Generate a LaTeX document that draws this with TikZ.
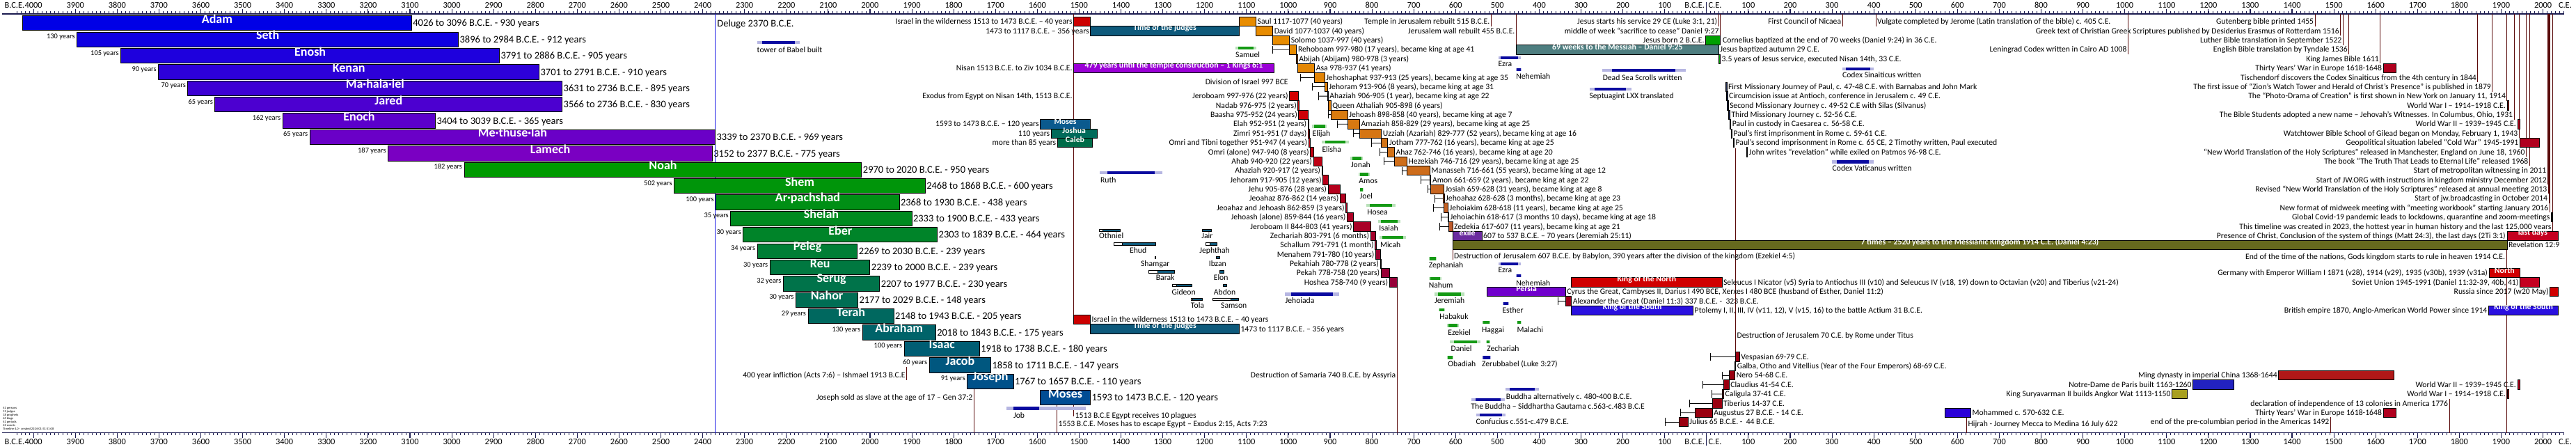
\documentclass[tikz,border=0pt]{standalone}
\usepackage{fontspec}
\setmainfont{Carlito}
\usetikzlibrary{arrows.meta,positioning,fit,calc}

\definecolor{axisblue}{HTML}{1B1B4F}
\definecolor{delugeblue}{HTML}{1A1AE6}
\definecolor{eventline}{HTML}{5A0A0A}
\definecolor{patA}{HTML}{0000E6}
\definecolor{patB}{HTML}{7A00C2}
\definecolor{patC}{HTML}{009A00}
\definecolor{patD}{HTML}{004C94}
\definecolor{judTop}{HTML}{E88C00}
\definecolor{judBot}{HTML}{BE5A2A}
\definecolor{isrTop}{HTML}{D40000}
\definecolor{isrBot}{HTML}{960038}
\definecolor{wildred}{HTML}{CC0000}
\definecolor{judgesteal}{HTML}{0E5A7C}
\definecolor{templepurple}{HTML}{9A00D6}
\definecolor{weeksteal}{HTML}{4E7E80}
\definecolor{jesusgreen}{HTML}{00A000}
\definecolor{exilepurple}{HTML}{6A2A9E}
\definecolor{timesolive}{HTML}{66691E}
\definecolor{lastred}{HTML}{C40020}
\definecolor{northred}{HTML}{D00000}
\definecolor{persiapurple}{HTML}{7000CC}
\definecolor{alexred}{HTML}{A00018}
\definecolor{southblue}{HTML}{2A10E0}
\definecolor{warred}{HTML}{B0001E}
\definecolor{mingred}{HTML}{B01818}
\definecolor{notreblue}{HTML}{2222C0}
\definecolor{angkorolive}{HTML}{A8A020}
\definecolor{mohblue}{HTML}{2A00D8}
\definecolor{romered}{HTML}{9A0010}
\definecolor{paulbox}{HTML}{1E2A50}
\definecolor{covidbox}{HTML}{3A0000}
\definecolor{mosesblue}{HTML}{0B5A8E}
\definecolor{joshuateal}{HTML}{006B5A}
\definecolor{calebteal}{HTML}{006B48}
\definecolor{navybar}{HTML}{0A0AA0}
\definecolor{prophetgreen}{HTML}{159A15}

% period bar with pale ends: colour, from, to, y
\newcommand{\fadebar}[4]{%
  \fill[#1!30] (#2,#4-2.2) rectangle (#3,#4+2.2);
  \fill[#1] ({#2+0.12*(#3-(#2))},#4-2.2) rectangle ({#3-0.12*(#3-(#2))},#4+2.2);}

\begin{document}
\begin{tikzpicture}[
    x=0.0150225cm, y=-0.025cm,
    every node/.style={inner sep=0pt, outer sep=0pt},
    axisline/.style={draw=axisblue, line width=0.8pt},
    axistick/.style={draw=axisblue, line width=0.5pt},
    axislbl/.style={font=\fontsize{8.8}{9}\selectfont, text height=5.6pt, text depth=0pt},
    lifebar/.style={draw=black, line width=0.7pt, text=white, font=\fontsize{12.8}{13}\selectfont\bfseries, text height=8.2pt, text depth=0pt},
    rangelbl/.style={font=\fontsize{10.3}{11}\selectfont, text height=6.6pt, text depth=0pt},
    agelbl/.style={font=\fontsize{7.4}{8}\selectfont, text height=4.7pt, text depth=0pt, anchor=east},
    evtlbl/.style={font=\fontsize{8.3}{9}\selectfont, text height=5.3pt, text depth=0pt},
    periodbox/.style={draw=black, line width=0.6pt, text=white, font=\fontsize{8.4}{9}\selectfont\bfseries, text height=5.4pt, text depth=0pt},
    kingbox/.style={draw=black, line width=0.6pt},
    evline/.style={draw=eventline, line width=0.7pt},
    delugeline/.style={draw=delugeblue, line width=0.7pt},
    birthline/.style={draw=black, line width=0.6pt, arrows={Bar[width=8pt]-}},
    judgebar/.style={draw=black, line width=0.3pt},
    tinylbl/.style={font=\fontsize{3.2}{3.6}\selectfont, align=left}
]

\useasboundingbox (-4080.2,0) rectangle (2078.9,642);
\fill[white] (-4080.2,0) rectangle (2078.9,642);

% -------------------------------------------------
% TIME AXES (top and bottom)
% -------------------------------------------------
\draw[axisline] (-4075,20) -- (2051,20);
\draw[axisline] (-4075,622) -- (2051,622);
\foreach \t in {-4040,-4030,...,2050} {
  \draw[axistick] (\t,20) -- (\t,16.3);
  \draw[axistick] (\t,622) -- (\t,625.7);
}
\foreach \t in {-4000,-3900,...,2000} {
  \draw[axisline] (\t,20) -- (\t,13);
  \draw[axisline] (\t,622) -- (\t,629);
}
\draw[axisline] (0,20) -- (0,3);
\draw[axisline] (0,622) -- (0,640);

\foreach \t [evaluate=\t as \lbl using int(-\t)] in {-3900,-3800,...,-100} {
  \node[axislbl] (top\lbl) at (\t,7.3) {\lbl};
  \node[axislbl] (bot\lbl) at (\t,635) {\lbl};
}
\foreach \t in {100,200,...,2000} {
  \node[axislbl] (topce\t) at (\t,7.3) {\t};
  \node[axislbl] (botce\t) at (\t,635) {\t};
}
\node[axislbl] (top4000) at (-4000,7.3) {4000};
\node[axislbl, left=0.3pt of top4000] (topBCEa) {B.C.E.};
\node[axislbl] (bot4000) at (-4000,635) {4000};
\node[axislbl, left=0.3pt of bot4000] (botBCEa) {B.C.E.};
\node[axislbl, anchor=east] (topBCE) at ([xshift=-2pt]0,7.3) {B.C.E.};
\node[axislbl, anchor=west] (topCE) at ([xshift=2pt]0,7.3) {C.E.};
\node[axislbl, anchor=east] (botBCE) at ([xshift=-2pt]0,635) {B.C.E.};
\node[axislbl, anchor=west] (botCE) at ([xshift=2pt]0,635) {C.E.};
\node[axislbl] (topEnd) at (2053,7.3) {C.E.};
\node[axislbl] (botEnd) at (2053,635) {C.E.};

% -------------------------------------------------
% EVENT LINES
% -------------------------------------------------
\draw[delugeline] (-2370,20) -- (-2370,622);
\draw[evline] (-1513,20) -- (-1513,466.1);
\draw[evline] (-515,20) -- (-515,37.9);
\draw[evline] (-455,20) -- (-455,64.6);
\draw[evline] (29,20) -- (29,37.9);
\draw[evline] (33,20) -- (33,51.3);
\draw[evline] (325,20) -- (325,37.9);
\draw[evline] (405,20) -- (405,37.9);
\draw[evline] (1008,20) -- (1008,78.0);
\draw[evline] (1455,20) -- (1455,37.9);
\draw[evline] (1516,20) -- (1516,51.3);
\draw[evline] (1522,20) -- (1522,64.6);
\draw[evline] (1536,20) -- (1536,78.0);
\draw[evline] (1611,20) -- (1611,91.4);
\draw[evline] (1844,20) -- (1844,118.2);
\draw[evline] (1879,20) -- (1879,131.6);
\draw[evline] (1914,20) -- (1914,144.9);
\draw[evline] (1931,20) -- (1931,171.7);
\draw[evline] (1943,20) -- (1943,198.5);
\draw[evline] (1960,20) -- (1960,225.2);
\draw[evline] (1968,20) -- (1968,238.6);
\draw[evline] (2011,20) -- (2011,252.0);
\draw[evline] (2012,20) -- (2012,265.4);
\draw[evline] (2013,20) -- (2013,278.7);
\draw[evline] (2014,20) -- (2014,292.1);
\draw[evline] (2016,20) -- (2016,305.5);
\draw[evline] (2023,20) -- (2023,332.3);
\draw[evline] (-1913,527.3) -- (-1913,546.7);
\draw[evline] (-1752,558.8) -- (-1752,622);
\draw[evline] (-1513,582.2) -- (-1513,598.5);
\draw[evline] (-1553,582.2) -- (-1553,622);
\draw[evline] (-740,412.5) -- (-740,622);
\draw[evline] (-607,359) -- (-607,373);
\draw[evline] (69.5,213) -- (69.5,506.2);
\draw[evline] (1914,359) -- (1914,622);
\draw[evline] (622,599.9) -- (622,622);
\draw[evline] (1776,573.1) -- (1776,622);
\draw[evline] (1492,599.8) -- (1492,622);

% =================================================
% PATRIARCHS
% =================================================
\node[rangelbl, anchor=west] (deluge) at ([xshift=2pt]-2370,33.7) {Deluge 2370 B.C.E.};

\node[lifebar, fill=patA, fit={(-4026,22.7)(-3096,44.0)}] (adam) {Adam};
\node[rangelbl, right=1.4pt of adam] (adamR) {4026 to 3096 B.C.E. - 930 years};

\node[lifebar, fill=patB!12!patA, fit={(-3896,46.1)(-2984,67.4)}] (seth) {Seth};
\node[rangelbl, right=1.4pt of seth] (sethR) {3896 to 2984 B.C.E. - 912 years};
\node[agelbl] (sethA) at ([xshift=-2.2pt,yshift=-4.5pt]seth.north west) {130 years};

\node[lifebar, fill=patB!25!patA, fit={(-3791,69.5)(-2886,90.8)}] (enosh) {Enosh};
\node[rangelbl, right=1.4pt of enosh] (enoshR) {3791 to 2886 B.C.E. - 905 years};
\node[agelbl] (enoshA) at ([xshift=-2.2pt,yshift=-4.5pt]enosh.north west) {105 years};

\node[lifebar, fill=patB!37!patA, fit={(-3701,92.9)(-2791,114.2)}] (kenan) {Kenan};
\node[rangelbl, right=1.4pt of kenan] (kenanR) {3701 to 2791 B.C.E. - 910 years};
\node[agelbl] (kenanA) at ([xshift=-2.2pt,yshift=-4.5pt]kenan.north west) {90 years};

\node[lifebar, fill=patB!50!patA, fit={(-3631,116.3)(-2736,137.6)}] (mahalalel) {Ma·hala·lel};
\node[rangelbl, right=1.4pt of mahalalel] (mahalalelR) {3631 to 2736 B.C.E. - 895 years};
\node[agelbl] (mahalalelA) at ([xshift=-2.2pt,yshift=-4.5pt]mahalalel.north west) {70 years};

\node[lifebar, fill=patB!62!patA, fit={(-3566,139.7)(-2736,161.0)}] (jared) {Jared};
\node[rangelbl, right=1.4pt of jared] (jaredR) {3566 to 2736 B.C.E. - 830 years};
\node[agelbl] (jaredA) at ([xshift=-2.2pt,yshift=-4.5pt]jared.north west) {65 years};

\node[lifebar, fill=patB!75!patA, fit={(-3404,163.1)(-3039,184.4)}] (enoch) {Enoch};
\node[rangelbl, right=1.4pt of enoch] (enochR) {3404 to 3039 B.C.E. - 365 years};
\node[agelbl] (enochA) at ([xshift=-2.2pt,yshift=-4.5pt]enoch.north west) {162 years};

\node[lifebar, fill=patB!87!patA, fit={(-3339,186.5)(-2370,207.8)}] (methuselah) {Me·thuse·lah};
\node[rangelbl, right=1.4pt of methuselah] (methuselahR) {3339 to 2370 B.C.E. - 969 years};
\node[agelbl] (methuselahA) at ([xshift=-2.2pt,yshift=-4.5pt]methuselah.north west) {65 years};

\node[lifebar, fill=patB, fit={(-3152,209.9)(-2377,231.2)}] (lamech) {Lamech};
\node[rangelbl, right=1.4pt of lamech] (lamechR) {3152 to 2377 B.C.E. - 775 years};
\node[agelbl] (lamechA) at ([xshift=-2.2pt,yshift=-4.5pt]lamech.north west) {187 years};

\node[lifebar, fill=patC, fit={(-2970,233.3)(-2020,254.6)}] (noah) {Noah};
\node[rangelbl, right=1.4pt of noah] (noahR) {2970 to 2020 B.C.E. - 950 years};
\node[agelbl] (noahA) at ([xshift=-2.2pt,yshift=-4.5pt]noah.north west) {182 years};

\node[lifebar, fill=patD!7!patC, fit={(-2468,256.7)(-1868,278.0)}] (shem) {Shem};
\node[rangelbl, right=1.4pt of shem] (shemR) {2468 to 1868 B.C.E. - 600 years};
\node[agelbl] (shemA) at ([xshift=-2.2pt,yshift=-4.5pt]shem.north west) {502 years};

\node[lifebar, fill=patD!14!patC, fit={(-2368,280.1)(-1930,301.4)}] (arpachshad) {Ar·pachshad};
\node[rangelbl, right=1.4pt of arpachshad] (arpachshadR) {2368 to 1930 B.C.E. - 438 years};
\node[agelbl] (arpachshadA) at ([xshift=-2.2pt,yshift=-4.5pt]arpachshad.north west) {100 years};

\node[lifebar, fill=patD!21!patC, fit={(-2333,303.5)(-1900,324.8)}] (shelah) {Shelah};
\node[rangelbl, right=1.4pt of shelah] (shelahR) {2333 to 1900 B.C.E. - 433 years};
\node[agelbl] (shelahA) at ([xshift=-2.2pt,yshift=-4.5pt]shelah.north west) {35 years};

\node[lifebar, fill=patD!28!patC, fit={(-2303,326.9)(-1839,348.2)}] (eber) {Eber};
\node[rangelbl, right=1.4pt of eber] (eberR) {2303 to 1839 B.C.E. - 464 years};
\node[agelbl] (eberA) at ([xshift=-2.2pt,yshift=-4.5pt]eber.north west) {30 years};

\node[lifebar, fill=patD!36!patC, fit={(-2269,350.3)(-2030,371.6)}] (peleg) {Peleg};
\node[rangelbl, right=1.4pt of peleg] (pelegR) {2269 to 2030 B.C.E. - 239 years};
\node[agelbl] (pelegA) at ([xshift=-2.2pt,yshift=-4.5pt]peleg.north west) {34 years};

\node[lifebar, fill=patD!43!patC, fit={(-2239,373.7)(-2000,395.0)}] (reu) {Reu};
\node[rangelbl, right=1.4pt of reu] (reuR) {2239 to 2000 B.C.E. - 239 years};
\node[agelbl] (reuA) at ([xshift=-2.2pt,yshift=-4.5pt]reu.north west) {30 years};

\node[lifebar, fill=patD!50!patC, fit={(-2207,397.1)(-1977,418.4)}] (serug) {Serug};
\node[rangelbl, right=1.4pt of serug] (serugR) {2207 to 1977 B.C.E. - 230 years};
\node[agelbl] (serugA) at ([xshift=-2.2pt,yshift=-4.5pt]serug.north west) {32 years};

\node[lifebar, fill=patD!57!patC, fit={(-2177,420.5)(-2029,441.8)}] (nahor) {Nahor};
\node[rangelbl, right=1.4pt of nahor] (nahorR) {2177 to 2029 B.C.E. - 148 years};
\node[agelbl] (nahorA) at ([xshift=-2.2pt,yshift=-4.5pt]nahor.north west) {30 years};

\node[lifebar, fill=patD!64!patC, fit={(-2148,443.9)(-1943,465.2)}] (terah) {Terah};
\node[rangelbl, right=1.4pt of terah] (terahR) {2148 to 1943 B.C.E. - 205 years};
\node[agelbl] (terahA) at ([xshift=-2.2pt,yshift=-4.5pt]terah.north west) {29 years};

\node[lifebar, fill=patD!71!patC, fit={(-2018,467.3)(-1843,488.6)}] (abraham) {Abraham};
\node[rangelbl, right=1.4pt of abraham] (abrahamR) {2018 to 1843 B.C.E. - 175 years};
\node[agelbl] (abrahamA) at ([xshift=-2.2pt,yshift=-4.5pt]abraham.north west) {130 years};

\node[lifebar, fill=patD!78!patC, fit={(-1918,490.7)(-1738,512.0)}] (isaac) {Isaac};
\node[rangelbl, right=1.4pt of isaac] (isaacR) {1918 to 1738 B.C.E. - 180 years};
\node[agelbl] (isaacA) at ([xshift=-2.2pt,yshift=-4.5pt]isaac.north west) {100 years};

\node[lifebar, fill=patD!86!patC, fit={(-1858,514.1)(-1711,535.4)}] (jacob) {Jacob};
\node[rangelbl, right=1.4pt of jacob] (jacobR) {1858 to 1711 B.C.E. - 147 years};
\node[agelbl] (jacobA) at ([xshift=-2.2pt,yshift=-4.5pt]jacob.north west) {60 years};

\node[lifebar, fill=patD!93!patC, fit={(-1767,537.5)(-1657,558.8)}] (joseph) {Joseph};
\node[rangelbl, right=1.4pt of joseph] (josephR) {1767 to 1657 B.C.E. - 110 years};
\node[agelbl] (josephA) at ([xshift=-2.2pt,yshift=-4.5pt]joseph.north west) {91 years};

\node[lifebar, fill=patD, fit={(-1593,560.9)(-1473,582.2)}] (moses) {Moses};
\node[rangelbl, right=1.4pt of moses] (mosesR) {1593 to 1473 B.C.E. - 120 years};

% events round the patriarchs
\fadebar{navybar}{-2270}{-2168}{61}
\node[evtlbl, anchor=west] (babel) at (-2270,71.7) {tower of Babel built};
\node[evtlbl, anchor=east] (ishmael) at ([xshift=-1.2pt]-1913,539) {400 year infliction (Acts 7:6) – Ishmael 1913 B.C.E};
\node[evtlbl, anchor=east] (josephSold) at ([xshift=-1.2pt]-1752,571) {Joseph sold as slave at the age of 17 – Gen 37:2};
\node[evtlbl, anchor=west] (plagues) at ([xshift=1.5pt]-1513,597) {1513 B.C.E Egypt receives 10 plagues};
\node[evtlbl, anchor=west] (escape) at ([xshift=1.5pt]-1553,609.5) {1553 B.C.E. Moses has to escape Egypt – Exodus 2:15, Acts 7:23};
\fill[navybar!30] (-1674,584.8) rectangle (-1484,589.2);
\fill[navybar] (-1657,584.8) rectangle (-1595,589.2);
\node[evtlbl, anchor=west] (job) at (-1657,597.7) {Job};

% =================================================
% EXODUS, JUDGES
% =================================================
\node[periodbox, fill=wildred, fit={(-1513,24.5)(-1473,37.9)}] (wild) {};
\node[evtlbl, left=1.4pt of wild] (wildL) {Israel in the wilderness 1513 to 1473 B.C.E. – 40 years};
\node[periodbox, fill=judgesteal, fit={(-1473,37.9)(-1117,51.3)}] (judges) {Time of the judges};
\node[evtlbl, left=1.4pt of judges] (judgesL) {1473 to 1117 B.C.E. – 356 years};
\node[periodbox, fill=templepurple, fit={(-1513,91.4)(-1034,104.8)}] (temple) {479 years until the temple construction – 1 Kings 6:1};
\node[evtlbl, left=1.4pt of temple] (templeL) {Nisan 1513 B.C.E. to Ziv 1034 B.C.E.};
\node[evtlbl, anchor=east] (exodus) at ([xshift=-1.4pt]-1513,138.2) {Exodus from Egypt on Nisan 14th, 1513 B.C.E.};

\node[periodbox, fill=mosesblue, fit={(-1593,171.7)(-1473,185.1)}] (mosesS) {Moses};
\node[evtlbl, left=1.4pt of mosesS] (mosesSL) {1593 to 1473 B.C.E. – 120 years};
\node[periodbox, fill=joshuateal, fit={(-1567,185.1)(-1457,198.5)}] (joshua) {Joshua};
\node[evtlbl, left=1.4pt of joshua] (joshuaL) {110 years};
\node[periodbox, fill=calebteal, fit={(-1552,198.4)(-1468,211.8)}] (caleb) {Caleb};
\node[evtlbl, left=1.4pt of caleb] (calebL) {more than 85 years};

\fadebar{prophetgreen}{-1126}{-1077}{69.3}
\node[evtlbl, anchor=west] (samuel) at (-1126,79.3) {Samuel};
\fadebar{navybar}{-1451}{-1301}{248.3}
\node[evtlbl, anchor=west] (ruth) at (-1449,258.7) {Ruth};

% the single judges
\draw[judgebar, fill=white] (-1452,329) rectangle (-1443,332.4);
\draw[judgebar, fill=judgesteal] (-1443,329) rectangle (-1403,332.4);
\draw[judgebar, fill=judgesteal] (-1206,329) rectangle (-1184,332.4);
\draw[judgebar, fill=white] (-1417,348.6) rectangle (-1398,352);
\draw[judgebar, fill=judgesteal] (-1398,348.6) rectangle (-1318,352);
\draw[judgebar, fill=white] (-1198,348.6) rectangle (-1188,352);
\draw[judgebar, fill=judgesteal] (-1188,348.6) rectangle (-1171,352);
\draw[judgebar, fill=judgesteal] (-1319,368.3) rectangle (-1317,371.7);
\draw[judgebar, fill=judgesteal] (-1173,368.3) rectangle (-1165,371.7);
\draw[judgebar, fill=white] (-1334,388.6) rectangle (-1313,392);
\draw[judgebar, fill=judgesteal] (-1313,388.6) rectangle (-1273,392);
\draw[judgebar, fill=judgesteal] (-1165,388.6) rectangle (-1155,392);
\draw[judgebar, fill=white] (-1278,408.6) rectangle (-1268,412);
\draw[judgebar, fill=judgesteal] (-1268,408.6) rectangle (-1230,412);
\draw[judgebar, fill=judgesteal] (-1156,408.6) rectangle (-1147,412);
\draw[judgebar, fill=white] (-1232,428.6) rectangle (-1229,432);
\draw[judgebar, fill=judgesteal] (-1229,428.6) rectangle (-1206,432);
\draw[judgebar, fill=white] (-1181,428.6) rectangle (-1138,432);
\draw[judgebar, fill=judgesteal] (-1138,428.6) rectangle (-1119,432);
\node[evtlbl] (othniel) at (-1423,339.3) {Othniel};
\node[evtlbl] (jair) at (-1194,339.3) {Jair};
\node[evtlbl] (ehud) at (-1359,359.7) {Ehud};
\node[evtlbl] (jephthah) at (-1176,359.7) {Jephthah};
\node[evtlbl] (shamgar) at (-1318,379.3) {Shamgar};
\node[evtlbl] (ibzan) at (-1169,379.3) {Ibzan};
\node[evtlbl] (barak) at (-1294,399.5) {Barak};
\node[evtlbl] (elon) at (-1161,399.5) {Elon};
\node[evtlbl] (gideon) at (-1250,419.7) {Gideon};
\node[evtlbl] (abdon) at (-1152,419.7) {Abdon};
\node[evtlbl] (tola) at (-1217,439.5) {Tola};
\node[evtlbl] (samson) at (-1130,439.5) {Samson};

\node[periodbox, fill=wildred, fit={(-1513,452.7)(-1473,466.1)}] (wild2) {};
\node[evtlbl, right=1.4pt of wild2] (wild2L) {Israel in the wilderness 1513 to 1473 B.C.E. – 40 years};
\node[periodbox, fill=judgesteal, fit={(-1473,466.0)(-1117,479.4)}] (judges2) {Time of the judges};
\node[evtlbl, right=1.4pt of judges2] (judges2L) {1473 to 1117 B.C.E. – 356 years};

% =================================================
% KINGS OF ISRAEL (UNITED) AND JUDAH
% =================================================
\node[kingbox, fill=judTop, fit={(-1117,24.5)(-1077,37.9)}] (saul) {};
\node[evtlbl, right=1.5pt of saul] (saulL) {Saul 1117-1077 (40 years)};
\node[kingbox, fill=judTop, fit={(-1077,37.9)(-1037,51.3)}] (david) {};
\node[evtlbl, right=1.5pt of david] (davidL) {David 1077-1037 (40 years)};
\node[kingbox, fill=judTop, fit={(-1037,51.3)(-997,64.6)}] (solomon) {};
\node[evtlbl, right=1.5pt of solomon] (solomonL) {Solomo 1037-997 (40 years)};
\node[evtlbl, anchor=east] (division) at ([xshift=-1.4pt]-997,118.3) {Division of Israel 997 BCE};

\node[kingbox, fill=judBot!0!judTop, fit={(-997,64.6)(-980,78.0)}] (jRehoboam) {};
\node[evtlbl, right=1.5pt of jRehoboam] (jRehoboamL) {Rehoboam 997-980 (17 years), became king at age 41};
\coordinate (bRehoboam) at (-1038,71.3);
\draw[birthline] (bRehoboam) -- (jRehoboam.west);

\node[kingbox, fill=judBot!5!judTop, fit={(-980,78.0)(-978,91.4)}] (jAbijah) {};
\node[evtlbl, right=1.5pt of jAbijah] (jAbijahL) {Abijah (Abijam) 980-978 (3 years)};

\node[kingbox, fill=judBot!10!judTop, fit={(-978,91.4)(-937,104.8)}] (jAsa) {};
\node[evtlbl, right=1.5pt of jAsa] (jAsaL) {Asa 978-937 (41 years)};

\node[kingbox, fill=judBot!15!judTop, fit={(-937,104.8)(-913,118.2)}] (jJehoshaphat) {};
\node[evtlbl, right=1.5pt of jJehoshaphat] (jJehoshaphatL) {Jehoshaphat 937-913 (25 years), became king at age 35};
\coordinate (bJehoshaphat) at (-972,111.5);
\draw[birthline] (bJehoshaphat) -- (jJehoshaphat.west);

\node[kingbox, fill=judBot!20!judTop, fit={(-913,118.2)(-906,131.6)}] (jJehoram) {};
\node[evtlbl, right=1.5pt of jJehoram] (jJehoramL) {Jehoram 913-906 (8 years), became king at age 31};
\coordinate (bJehoram) at (-944,124.9);
\draw[birthline] (bJehoram) -- (jJehoram.west);

\node[kingbox, fill=judBot!25!judTop, fit={(-906,131.5)(-905,144.9)}] (jAhaziah) {};
\node[evtlbl, right=1.5pt of jAhaziah] (jAhaziahL) {Ahaziah 906-905 (1 year), became king at age 22};
\coordinate (bAhaziah) at (-928,138.2);
\draw[birthline] (bAhaziah) -- (jAhaziah.west);

\node[kingbox, fill=judBot!30!judTop, fit={(-905,144.9)(-898,158.3)}] (jAthaliah) {};
\node[evtlbl, right=1.5pt of jAthaliah] (jAthaliahL) {Queen Athaliah 905-898 (6 years)};

\node[kingbox, fill=judBot!35!judTop, fit={(-898,158.3)(-858,171.7)}] (jJehoash) {};
\node[evtlbl, right=1.5pt of jJehoash] (jJehoashL) {Jehoash 898-858 (40 years), became king at age 7};
\coordinate (bJehoash) at (-905,165.0);
\draw[birthline] (bJehoash) -- (jJehoash.west);

\node[kingbox, fill=judBot!40!judTop, fit={(-858,171.7)(-829,185.1)}] (jAmaziah) {};
\node[evtlbl, right=1.5pt of jAmaziah] (jAmaziahL) {Amaziah 858-829 (29 years), became king at age 25};
\coordinate (bAmaziah) at (-883,178.4);
\draw[birthline] (bAmaziah) -- (jAmaziah.west);

\node[kingbox, fill=judBot!45!judTop, fit={(-829,185.1)(-777,198.5)}] (jUzziah) {};
\node[evtlbl, right=1.5pt of jUzziah] (jUzziahL) {Uzziah (Azariah) 829-777 (52 years), became king at age 16};
\coordinate (bUzziah) at (-845,191.8);
\draw[birthline] (bUzziah) -- (jUzziah.west);

\node[kingbox, fill=judBot!50!judTop, fit={(-777,198.4)(-762,211.8)}] (jJotham) {};
\node[evtlbl, right=1.5pt of jJotham] (jJothamL) {Jotham 777-762 (16 years), became king at age 25};
\coordinate (bJotham) at (-802,205.1);
\draw[birthline] (bJotham) -- (jJotham.west);

\node[kingbox, fill=judBot!55!judTop, fit={(-762,211.8)(-746,225.2)}] (jAhaz) {};
\node[evtlbl, right=1.5pt of jAhaz] (jAhazL) {Ahaz 762-746 (16 years), became king at age 20};
\coordinate (bAhaz) at (-782,218.5);
\draw[birthline] (bAhaz) -- (jAhaz.west);

\node[kingbox, fill=judBot!60!judTop, fit={(-746,225.2)(-716,238.6)}] (jHezekiah) {};
\node[evtlbl, right=1.5pt of jHezekiah] (jHezekiahL) {Hezekiah 746-716 (29 years), became king at age 25};
\coordinate (bHezekiah) at (-771,231.9);
\draw[birthline] (bHezekiah) -- (jHezekiah.west);

\node[kingbox, fill=judBot!65!judTop, fit={(-716,238.6)(-661,252.0)}] (jManasseh) {};
\node[evtlbl, right=1.5pt of jManasseh] (jManassehL) {Manasseh 716-661 (55 years), became king at age 12};
\coordinate (bManasseh) at (-728,245.3);
\draw[birthline] (bManasseh) -- (jManasseh.west);

\node[kingbox, fill=judBot!70!judTop, fit={(-661,252.0)(-659,265.4)}] (jAmon) {};
\node[evtlbl, right=1.5pt of jAmon] (jAmonL) {Amon 661-659 (2 years), became king at age 22};
\coordinate (bAmon) at (-683,258.7);
\draw[birthline] (bAmon) -- (jAmon.west);

\node[kingbox, fill=judBot!75!judTop, fit={(-659,265.3)(-628,278.7)}] (jJosiah) {};
\node[evtlbl, right=1.5pt of jJosiah] (jJosiahL) {Josiah 659-628 (31 years), became king at age 8};
\coordinate (bJosiah) at (-667,272.0);
\draw[birthline] (bJosiah) -- (jJosiah.west);

\node[kingbox, fill=judBot!80!judTop, fit={(-628,278.7)(-628,292.1)}] (jJehoahaz) {};
\node[evtlbl, right=1.5pt of jJehoahaz] (jJehoahazL) {Jehoahaz 628-628 (3 months), became king at age 23};
\coordinate (bJehoahaz) at (-651,285.4);
\draw[birthline] (bJehoahaz) -- (jJehoahaz.west);

\node[kingbox, fill=judBot!85!judTop, fit={(-628,292.1)(-618,305.5)}] (jJehoiakim) {};
\node[evtlbl, right=1.5pt of jJehoiakim] (jJehoiakimL) {Jehoiakim 628-618 (11 years), became king at age 25};
\coordinate (bJehoiakim) at (-653,298.8);
\draw[birthline] (bJehoiakim) -- (jJehoiakim.west);

\node[kingbox, fill=judBot!90!judTop, fit={(-618,305.5)(-617,318.9)}] (jJehoiachin) {};
\node[evtlbl, right=1.5pt of jJehoiachin] (jJehoiachinL) {Jehoiachin 618-617 (3 months 10 days), became king at age 18};
\coordinate (bJehoiachin) at (-636,312.2);
\draw[birthline] (bJehoiachin) -- (jJehoiachin.west);

\node[kingbox, fill=judBot, fit={(-617,318.9)(-607,332.3)}] (jZedekia) {};
\node[evtlbl, right=1.5pt of jZedekia] (jZedekiaL) {Zedekia 617-607 (11 years), became king at age 21};
\coordinate (bZedekia) at (-638,325.6);
\draw[birthline] (bZedekia) -- (jZedekia.west);

% =================================================
% KINGS OF ISRAEL (NORTH)
% =================================================
\node[kingbox, fill=isrBot!0!isrTop, fit={(-997,131.5)(-976,144.9)}] (iJeroboam) {};
\node[evtlbl, left=1.5pt of iJeroboam] (iJeroboamL) {Jeroboam 997-976 (22 years)};
\node[kingbox, fill=isrBot!5!isrTop, fit={(-976,144.9)(-975,158.3)}] (iNadab) {};
\node[evtlbl, left=1.5pt of iNadab] (iNadabL) {Nadab 976-975 (2 years)};
\node[kingbox, fill=isrBot!10!isrTop, fit={(-975,158.3)(-952,171.7)}] (iBaasha) {};
\node[evtlbl, left=1.5pt of iBaasha] (iBaashaL) {Baasha 975-952 (24 years)};
\node[kingbox, fill=isrBot!15!isrTop, fit={(-952,171.7)(-951,185.1)}] (iElah) {};
\node[evtlbl, left=1.5pt of iElah] (iElahL) {Elah 952-951 (2 years)};
\node[kingbox, fill=isrBot!20!isrTop, fit={(-951,185.1)(-951,198.5)}] (iZimri) {};
\node[evtlbl, left=1.5pt of iZimri] (iZimriL) {Zimri 951-951 (7 days)};
\node[kingbox, fill=isrBot!25!isrTop, fit={(-951,198.4)(-947,211.8)}] (iOmriTibni) {};
\node[evtlbl, left=1.5pt of iOmriTibni] (iOmriTibniL) {Omri and Tibni together 951-947 (4 years)};
\node[kingbox, fill=isrBot!30!isrTop, fit={(-947,211.8)(-940,225.2)}] (iOmri) {};
\node[evtlbl, left=1.5pt of iOmri] (iOmriL) {Omri (alone) 947-940 (8 years)};
\node[kingbox, fill=isrBot!35!isrTop, fit={(-940,225.2)(-920,238.6)}] (iAhab) {};
\node[evtlbl, left=1.5pt of iAhab] (iAhabL) {Ahab 940-920 (22 years)};
\node[kingbox, fill=isrBot!40!isrTop, fit={(-920,238.6)(-917,252.0)}] (iAhaziah) {};
\node[evtlbl, left=1.5pt of iAhaziah] (iAhaziahL) {Ahaziah 920-917 (2 years)};
\node[kingbox, fill=isrBot!45!isrTop, fit={(-917,252.0)(-905,265.4)}] (iJehoram) {};
\node[evtlbl, left=1.5pt of iJehoram] (iJehoramL) {Jehoram 917-905 (12 years)};
\node[kingbox, fill=isrBot!50!isrTop, fit={(-905,265.3)(-876,278.7)}] (iJehu) {};
\node[evtlbl, left=1.5pt of iJehu] (iJehuL) {Jehu 905-876 (28 years)};
\node[kingbox, fill=isrBot!55!isrTop, fit={(-876,278.7)(-862,292.1)}] (iJeoahaz) {};
\node[evtlbl, left=1.5pt of iJeoahaz] (iJeoahazL) {Jeoahaz 876-862 (14 years)};
\node[kingbox, fill=isrBot!60!isrTop, fit={(-862,292.1)(-859,305.5)}] (iJeoJeho) {};
\node[evtlbl, left=1.5pt of iJeoJeho] (iJeoJehoL) {Jeoahaz and Jehoash 862-859 (3 years)};
\node[kingbox, fill=isrBot!65!isrTop, fit={(-859,305.5)(-844,318.9)}] (iJehoash) {};
\node[evtlbl, left=1.5pt of iJehoash] (iJehoashL) {Jehoash (alone) 859-844 (16 years)};
\node[kingbox, fill=isrBot!70!isrTop, fit={(-844,318.9)(-803,332.3)}] (iJeroboamII) {};
\node[evtlbl, left=1.5pt of iJeroboamII] (iJeroboamIIL) {Jeroboam II 844-803 (41 years)};
\node[kingbox, fill=isrBot!75!isrTop, fit={(-803,332.2)(-791,345.6)}] (iZechariah) {};
\node[evtlbl, left=1.5pt of iZechariah] (iZechariahL) {Zechariah 803-791 (6 months)};
\node[kingbox, fill=isrBot!80!isrTop, fit={(-791,345.6)(-791,359.0)}] (iSchallum) {};
\node[evtlbl, left=1.5pt of iSchallum] (iSchallumL) {Schallum 791-791 (1 month)};
\node[kingbox, fill=isrBot!85!isrTop, fit={(-791,359.0)(-780,372.4)}] (iMenahem) {};
\node[evtlbl, left=1.5pt of iMenahem] (iMenahemL) {Menahem 791-780 (10 years)};
\node[kingbox, fill=isrBot!90!isrTop, fit={(-780,372.4)(-778,385.8)}] (iPekahiah) {};
\node[evtlbl, left=1.5pt of iPekahiah] (iPekahiahL) {Pekahiah 780-778 (2 years)};
\node[kingbox, fill=isrBot!95!isrTop, fit={(-778,385.8)(-758,399.2)}] (iPekah) {};
\node[evtlbl, left=1.5pt of iPekah] (iPekahL) {Pekah 778-758 (20 years)};
\node[kingbox, fill=isrBot, fit={(-758,399.1)(-740,412.5)}] (iHoshea) {};
\node[evtlbl, left=1.5pt of iHoshea] (iHosheaL) {Hoshea 758-740 (9 years)};
\node[evtlbl, anchor=east] (samaria) at ([xshift=-1.4pt]-740,539.6) {Destruction of Samaria 740 B.C.E. by Assyria};

% =================================================
% PROPHETS AND PERSONS
% =================================================
\fadebar{navybar}{-1008}{-878}{422.7}
\node[evtlbl, anchor=west] (jehoiada) at (-1007,432.3) {Jehoiada};
\fadebar{prophetgreen}{-943}{-908}{181.7}
\node[evtlbl, anchor=west] (elijah) at (-942,191.7) {Elijah};
\fadebar{prophetgreen}{-920}{-855}{204.3}
\node[evtlbl, anchor=west] (elisha) at (-919,214.7) {Elisha};
\fadebar{prophetgreen}{-851}{-821}{227.7}
\node[evtlbl, anchor=west] (jonah) at (-850,237.3) {Jonah};
\fadebar{prophetgreen}{-831}{-805}{250.7}
\node[evtlbl, anchor=west] (amos) at (-831,260.3) {Amos};
\fadebar{prophetgreen}{-829}{-820}{272.7}
\node[evtlbl, anchor=west] (joel) at (-829,282.3) {Joel};
\fadebar{prophetgreen}{-813}{-743}{295.3}
\node[evtlbl, anchor=west] (hosea) at (-811,305) {Hosea};
\fadebar{prophetgreen}{-785}{-732}{318.3}
\node[evtlbl, anchor=west] (isaiah) at (-783,328) {Isaiah};
\fadebar{prophetgreen}{-782}{-718}{341.3}
\node[evtlbl, anchor=west] (micah) at (-780,351.7) {Micah};
\fadebar{prophetgreen}{-664}{-645}{371.7}
\node[evtlbl, anchor=west] (zephaniah) at (-664,381.3) {Zephaniah};
\fadebar{prophetgreen}{-664}{-633}{400}
\node[evtlbl, anchor=west] (nahum) at (-664,410) {Nahum};
\fadebar{prophetgreen}{-651}{-579}{422.7}
\node[evtlbl, anchor=west] (jeremiah) at (-650,432.3) {Jeremiah};
\fadebar{prophetgreen}{-640}{-625}{445.3}
\node[evtlbl, anchor=west] (habakuk) at (-638,455.3) {Habakuk};
\fadebar{prophetgreen}{-620}{-592}{468}
\node[evtlbl, anchor=west] (ezekiel) at (-618,478.3) {Ezekiel};
\fadebar{prophetgreen}{-613}{-541}{491.3}
\node[evtlbl, anchor=west] (daniel) at (-611,501.3) {Daniel};
\fadebar{prophetgreen}{-620}{-606}{513.7}
\node[evtlbl, anchor=west] (obadiah) at (-618,523.3) {Obadiah};
\fadebar{prophetgreen}{-537}{-517}{463.3}
\node[evtlbl, anchor=west] (haggai) at (-537,473.7) {Haggai};
\fadebar{prophetgreen}{-527}{-517}{491.3}
\node[evtlbl, anchor=west] (zechariah) at (-525,501.3) {Zechariah};
\fadebar{prophetgreen}{-453}{-443}{463.3}
\node[evtlbl, anchor=west] (malachi) at (-453,473.7) {Malachi};
\fadebar{navybar}{-537}{-515}{514}
\node[evtlbl, anchor=west] (zerubbabel) at (-537,523.3) {Zerubbabel (Luke 3:27)};
\fadebar{navybar}{-498}{-444}{83}
\node[evtlbl, anchor=west] (ezra) at (-498,92.3) {Ezra};
\fadebar{navybar}{-455}{-443}{100}
\node[evtlbl, anchor=west] (nehemiah) at (-455,110.3) {Nehemiah};
\fadebar{navybar}{-498}{-444}{379}
\node[evtlbl, anchor=west] (ezra2) at (-498,388.3) {Ezra};
\fadebar{navybar}{-455}{-443}{396}
\node[evtlbl, anchor=west] (nehemiah2) at (-455,406.7) {Nehemiah};
\fadebar{navybar}{-488}{-472}{436.3}
\node[evtlbl, anchor=west] (esther) at (-488,446.3) {Esther};
\fadebar{navybar}{-250}{-50}{101}
\node[evtlbl, anchor=west] (deadsea) at (-248,111.7) {Dead Sea Scrolls written};
\fadebar{navybar}{-280}{-180}{128.3}
\node[evtlbl, anchor=west] (septuagint) at (-280,138.3) {Septuagint LXX translated};
\fadebar{navybar}{-481}{-401}{559.3}
\node[evtlbl, anchor=west] (buddhaAlt) at (-479,569.7) {Buddha alternatively c. 480-400 B.C.E.};
\fadebar{navybar}{-562}{-483}{574.3}
\node[evtlbl, anchor=west] (buddha) at (-563,584.3) {The Buddha – Siddhartha Gautama c.563-c.483 B.C.E};
\fadebar{navybar}{-551}{-480}{596.7}
\node[evtlbl, anchor=west] (confucius) at (-551,606.3) {Confucius c.551-c.479 B.C.E.};

% =================================================
% EXILE, 7 TIMES, WORLD POWERS
% =================================================
\node[periodbox, fill=exilepurple, fit={(-607,332.2)(-537,345.6)}] (exile) {exile};
\node[evtlbl, right=1.5pt of exile] (exileL) {607 to 537 B.C.E. – 70 years (Jeremiah 25:11)};
\node[periodbox, fill=timesolive, fit={(-607,345.6)(1914,359.0)}] (seventimes) {7 times – 2520 years to the Messianic Kingdom 1914 C.E. (Daniel 4:23)};
\node[evtlbl, anchor=west] (jerusalem607) at ([xshift=1.5pt]-607,368) {Destruction of Jerusalem 607 B.C.E. by Babylon, 390 years after the division of the kingdom (Ezekiel 4:5)};

\node[periodbox, fill=northred, fit={(-323,399.1)(37,412.5)}] (kingNorth) {King of the North};
\node[evtlbl, right=1.5pt of kingNorth] (kingNorthL) {Seleucus I Nicator (v5) Syria to Antiochus III (v10) and Seleucus IV (v18, 19) down to Octavian (v20) and Tiberius (v21-24)};
\node[periodbox, fill=persiapurple, fit={(-524,412.5)(-337,425.9)}] (persia) {Persia};
\node[evtlbl, right=1.5pt of persia] (persiaL) {Cyrus the Great, Cambyses II, Darius I 490 BCE, Xerxes I 480 BCE (husband of Esther, Daniel 11:2)};
\node[kingbox, fill=alexred, fit={(-336,425.9)(-323,439.3)}] (alexander) {};
\node[evtlbl, right=1.5pt of alexander] (alexanderL) {Alexander the Great (Daniel 11:3) 337 B.C.E. -\ \ 323 B.C.E.};
\coordinate (bAlexander) at (-356,432.6);
\draw[birthline] (bAlexander) -- (alexander.west);
\node[periodbox, fill=southblue, fit={(-323,439.3)(-32,452.7)}] (kingSouth) {King of the South};
\node[evtlbl, right=1.5pt of kingSouth] (kingSouthL) {Ptolemy I, II, III, IV (v11, 12), V (v15, 16) to the battle Actium 31 B.C.E.};

% =================================================
% JESUS AND THE FIRST CENTURY
% =================================================
\node[evtlbl, anchor=east] (templeRebuilt) at ([xshift=-1.4pt]-515,31.2) {Temple in Jerusalem rebuilt 515 B.C.E.};
\node[evtlbl, anchor=east] (wallRebuilt) at ([xshift=-1.4pt]-455,44.6) {Jerusalem wall rebuilt 455 B.C.E.};
\node[evtlbl, anchor=east] (jesusService) at ([xshift=-1.4pt]29,31.2) {Jesus starts his service 29 CE (Luke 3:1, 21)};
\node[evtlbl, anchor=east] (midWeek) at ([xshift=-1.4pt]33,44.6) {middle of week “sacrifice to cease” Daniel 9:27};
\node[periodbox, fill=jesusgreen, fit={(-2,51.3)(33,64.6)}] (jesusLife) {};
\node[evtlbl, left=1.5pt of jesusLife] (jesusBorn) {Jesus born 2 B.C.E.};
\node[evtlbl, right=2.5pt of jesusLife] (cornelius) {Cornelius baptized at the end of 70 weeks (Daniel 9:24) in 36 C.E.};
\node[periodbox, fill=weeksteal, fit={(-455,64.6)(29,78.0)}] (weeks) {69 weeks to the Messiah – Daniel 9:25};
\node[evtlbl, right=1.5pt of weeks] (weeksL) {Jesus baptized autumn 29 C.E.};
\node[periodbox, fill=jesusgreen, fit={(29,78.0)(33,91.4)}] (service) {};
\node[evtlbl, right=1.5pt of service] (serviceL) {3.5 years of Jesus service, executed Nisan 14th, 33 C.E.};

\node[kingbox, fill=paulbox, fit={(47,118.2)(48,131.6)}] (paul1) {};
\node[evtlbl, right=1.5pt of paul1] (paul1L) {First Missionary Journey of Paul, c. 47-48 C.E. with Barnabas and John Mark};
\node[kingbox, fill=paulbox, fit={(49,131.5)(49,144.9)}] (paul2) {};
\node[evtlbl, right=1.5pt of paul2] (paul2L) {Circumcision issue at Antioch, conference in Jerusalem c. 49 C.E.};
\node[kingbox, fill=paulbox, fit={(49,144.9)(52,158.3)}] (paul3) {};
\node[evtlbl, right=1.5pt of paul3] (paul3L) {Second Missionary Journey c. 49-52 C.E with Silas (Silvanus)};
\node[kingbox, fill=paulbox, fit={(52,158.3)(56,171.7)}] (paul4) {};
\node[evtlbl, right=1.5pt of paul4] (paul4L) {Third Missionary Journey c. 52-56 C.E.};
\node[kingbox, fill=paulbox, fit={(56,171.7)(58,185.1)}] (paul5) {};
\node[evtlbl, right=1.5pt of paul5] (paul5L) {Paul in custody in Caesarea c. 56-58 C.E.};
\node[kingbox, fill=paulbox, fit={(59,185.1)(61,198.5)}] (paul6) {};
\node[evtlbl, right=1.5pt of paul6] (paul6L) {Paul’s first imprisonment in Rome c. 59-61 C.E.};
\node[kingbox, fill=paulbox, fit={(65,198.4)(65,211.8)}] (paul7) {};
\node[evtlbl, right=1.5pt of paul7] (paul7L) {Paul’s second imprisonment in Rome c. 65 CE, 2 Timothy written, Paul executed};
\node[kingbox, fill=paulbox, fit={(96,211.8)(98,225.2)}] (john) {};
\node[evtlbl, right=1.5pt of john] (johnL) {John writes “revelation” while exiled on Patmos 96-98 C.E.};
\node[evtlbl, anchor=west] (titus) at ([xshift=1.5pt]69.5,482.3) {Destruction of Jerusalem 70 C.E. by Rome under Titus};

% roman emperors
\node[kingbox, fill=romered, fit={(69,506.2)(79,519.6)}] (vespasian) {};
\node[evtlbl, right=1.5pt of vespasian] (vespasianL) {Vespasian 69-79 C.E.};
\coordinate (bVespasian) at (9,512.9);
\draw[birthline] (bVespasian) -- (vespasian.west);
\node[kingbox, fill=romered, fit={(68,519.6)(69,533.0)}] (galba) {};
\node[evtlbl, right=1.5pt of galba] (galbaL) {Galba, Otho and Vitellius (Year of the Four Emperors) 68-69 C.E.};
\node[kingbox, fill=romered, fit={(54,532.9)(68,546.3)}] (nero) {};
\node[evtlbl, right=1.5pt of nero] (neroL) {Nero 54-68 C.E.};
\coordinate (bNero) at (37,539.6);
\draw[birthline] (bNero) -- (nero.west);
\node[kingbox, fill=romered, fit={(41,546.3)(54,559.7)}] (claudius) {};
\node[evtlbl, right=1.5pt of claudius] (claudiusL) {Claudius 41-54 C.E.};
\coordinate (bClaudius) at (-10,553.0);
\draw[birthline] (bClaudius) -- (claudius.west);
\node[kingbox, fill=romered, fit={(37,559.7)(41,573.1)}] (caligula) {};
\node[evtlbl, right=1.5pt of caligula] (caligulaL) {Caligula 37-41 C.E.};
\coordinate (bCaligula) at (12,566.4);
\draw[birthline] (bCaligula) -- (caligula.west);
\node[kingbox, fill=romered, fit={(14,573.1)(37,586.5)}] (tiberius) {};
\node[evtlbl, right=1.5pt of tiberius] (tiberiusL) {Tiberius 14-37 C.E.};
\coordinate (bTiberius) at (-42,579.8);
\draw[birthline] (bTiberius) -- (tiberius.west);
\node[kingbox, fill=romered, fit={(-27,586.5)(14,599.9)}] (augustus) {};
\node[evtlbl, right=1.5pt of augustus] (augustusL) {Augustus 27 B.C.E. - 14 C.E.};
\coordinate (bAugustus) at (-63,593.2);
\draw[birthline] (bAugustus) -- (augustus.west);
\node[kingbox, fill=romered, fit={(-65,599.8)(-44,613.2)}] (julius) {};
\node[evtlbl, right=1.5pt of julius] (juliusL) {Julius 65 B.C.E. -\ \ 44 B.C.E.};
\coordinate (bJulius) at (-100,606.5);
\draw[birthline] (bJulius) -- (julius.west);

% =================================================
% CHURCH HISTORY AND MODERN TIMES
% =================================================
\node[evtlbl, anchor=east] (nicaea) at ([xshift=-1.4pt]325,31.2) {First Council of Nicaea};
\node[evtlbl, anchor=west] (vulgate) at ([xshift=1.4pt]405,31.2) {Vulgate completed by Jerome (Latin translation of the bible) c. 405 C.E.};
\fadebar{navybar}{325}{400}{99}
\node[evtlbl, anchor=west] (sinaiticus) at (325,108.3) {Codex Sinaiticus written};
\fadebar{navybar}{300}{400}{232.7}
\node[evtlbl, anchor=west] (vaticanus) at (301,242.3) {Codex Vaticanus written};
\node[evtlbl, anchor=east] (leningrad) at ([xshift=-1.4pt]1008,71.3) {Leningrad Codex written in Cairo AD 1008};

\node[periodbox, fill=mohblue, fit={(570,586.5)(632,599.9)}] (mohammed) {};
\node[evtlbl, right=1.5pt of mohammed] (mohammedL) {Mohammed c. 570-632 C.E.};
\node[evtlbl, anchor=west] (hijrah) at ([xshift=1.5pt]622,609.7) {Hijrah - Journey Mecca to Medina 16 July 622};

\node[evtlbl, anchor=east] (gutenberg) at ([xshift=-1.4pt]1455,31.2) {Gutenberg bible printed 1455};
\node[evtlbl, anchor=east] (erasmus) at ([xshift=-1.4pt]1516,44.6) {Greek text of Christian Greek Scriptures published by Desiderius Erasmus of Rotterdam 1516};
\node[evtlbl, anchor=east] (luther) at ([xshift=-1.4pt]1522,58.0) {Luther Bible translation in September 1522};
\node[evtlbl, anchor=east] (tyndale) at ([xshift=-1.4pt]1536,71.3) {English Bible translation by Tyndale 1536};
\node[evtlbl, anchor=east] (kingjames) at ([xshift=-1.4pt]1611,84.7) {King James Bible 1611};
\node[kingbox, fill=warred, fit={(1618,91.4)(1648,104.8)}] (thirty) {};
\node[evtlbl, left=1.5pt of thirty] (thirtyL) {Thirty Years’ War in Europe 1618-1648};
\node[evtlbl, anchor=east] (tischendorf) at ([xshift=-1.4pt]1844,111.5) {Tischendorf discovers the Codex Sinaiticus from the 4th century in 1844};
\node[evtlbl, anchor=east] (zion) at ([xshift=-1.4pt]1879,124.9) {The first issue of “Zion’s Watch Tower and Herald of Christ’s Presence” is published in 1879};
\node[evtlbl, anchor=east] (photodrama) at ([xshift=-1.4pt]1914,138.2) {The “Photo-Drama of Creation” is first shown in New York on January 11, 1914};
\node[kingbox, fill=warred, fit={(1914,144.9)(1918,158.3)}] (wwI) {};
\node[evtlbl, left=1.5pt of wwI] (wwIL) {World War I – 1914–1918 C.E.};
\node[evtlbl, anchor=east] (witnesses) at ([xshift=-1.4pt]1931,165.0) {The Bible Students adopted a new name – Jehovah’s Witnesses. In Columbus, Ohio, 1931};
\node[kingbox, fill=warred, fit={(1939,171.7)(1945,185.1)}] (wwII) {};
\node[evtlbl, left=1.5pt of wwII] (wwIIL) {World War II – 1939–1945 C.E.};
\node[evtlbl, anchor=east] (gilead) at ([xshift=-1.4pt]1943,191.8) {Watchtower Bible School of Gilead began on Monday, February 1, 1943};
\node[kingbox, fill=warred, fit={(1945,198.4)(1991,211.8)}] (coldwar) {};
\node[evtlbl, left=1.5pt of coldwar] (coldwarL) {Geopolitical situation labeled “Cold War” 1945-1991};
\node[evtlbl, anchor=east] (nwt) at ([xshift=-1.4pt]1960,218.5) {“New World Translation of the Holy Scriptures” released in Manchester, England on June 18, 1960};
\node[evtlbl, anchor=east] (truthbook) at ([xshift=-1.4pt]1968,231.9) {The book “The Truth That Leads to Eternal Life” released 1968};
\node[evtlbl, anchor=east] (metro) at ([xshift=-1.4pt]2011,245.3) {Start of metropolitan witnessing in 2011};
\node[evtlbl, anchor=east] (jworg) at ([xshift=-1.4pt]2012,258.7) {Start of JW.ORG with instructions in kingdom ministry December 2012};
\node[evtlbl, anchor=east] (nwtRev) at ([xshift=-1.4pt]2013,272.0) {Revised “New World Translation of the Holy Scriptures” released at annual meeting 2013};
\node[evtlbl, anchor=east] (broadcast) at ([xshift=-1.4pt]2014,285.4) {Start of jw.broadcasting in October 2014};
\node[evtlbl, anchor=east] (workbook) at ([xshift=-1.4pt]2016,298.8) {New format of midweek meeting with “meeting workbook” starting January 2016};
\node[kingbox, fill=covidbox, fit={(2020,305.5)(2023,318.9)}] (covid) {};
\node[evtlbl, left=1.5pt of covid] (covidL) {Global Covid-19 pandemic leads to lockdowns, quarantine and zoom-meetings};
\node[evtlbl, anchor=east] (created) at ([xshift=-1.4pt]2023,325.6) {This timeline was created in 2023, the hottest year in human history and the last 125,000 years};

\node[periodbox, fill=lastred, fit={(1914,332.2)(2037,345.6)}] (lastdays) {last days};
\node[evtlbl, left=1.5pt of lastdays] (lastdaysL) {Presence of Christ, Conclusion of the system of things (Matt 24:3), the last days (2Ti 3:1)};
\node[evtlbl, anchor=west] (rev129) at ([xshift=1.5pt]1914,352.3) {Revelation 12:9};
\node[evtlbl, anchor=east] (nations) at ([xshift=-2pt]1914,369) {End of the time of the nations, Gods kingdom starts to rule in heaven 1914 C.E.};

\node[periodbox, fill=northred, fit={(1871,385.8)(1945,399.2)}] (north) {North};
\node[evtlbl, left=1.5pt of north] (northL) {Germany with Emperor William I 1871 (v28), 1914 (v29), 1935 (v30b), 1939 (v31a)};
\node[kingbox, fill=lastred, fit={(1945,399.1)(1991,412.5)}] (soviet) {};
\node[evtlbl, left=1.5pt of soviet] (sovietL) {Soviet Union 1945-1991 (Daniel 11:32-39, 40b, 41)};
\node[kingbox, fill=northred, fit={(2017,412.5)(2037,425.9)}] (russia) {};
\node[evtlbl, left=1.5pt of russia] (russiaL) {Russia since 2017 (w20 May)};
\node[periodbox, fill=southblue, fit={(1870,439.3)(2037,452.7)}] (south) {King of the South};
\node[evtlbl, left=1.5pt of south] (southL) {British empire 1870, Anglo-American World Power since 1914};

\node[kingbox, fill=mingred, fit={(1368,532.9)(1644,546.3)}] (ming) {};
\node[evtlbl, left=1.5pt of ming] (mingL) {Ming dynasty in imperial China 1368-1644};
\node[kingbox, fill=notreblue, fit={(1163,546.3)(1260,559.7)}] (notredame) {};
\node[evtlbl, left=1.5pt of notredame] (notredameL) {Notre-Dame de Paris built 1163-1260};
\node[kingbox, fill=angkorolive, fit={(1113,559.7)(1150,573.1)}] (angkor) {};
\node[evtlbl, left=1.5pt of angkor] (angkorL) {King Suryavarman II builds Angkor Wat 1113-1150};
\node[kingbox, fill=warred, fit={(1939,546.3)(1945,559.7)}] (wwII2) {};
\node[evtlbl, left=1.5pt of wwII2] (wwII2L) {World War II – 1939–1945 C.E.};
\node[kingbox, fill=warred, fit={(1914,559.7)(1918,573.1)}] (wwI2) {};
\node[evtlbl, left=1.5pt of wwI2] (wwI2L) {World War I – 1914–1918 C.E.};
\node[evtlbl, anchor=east] (independence) at ([xshift=-1.4pt]1776,579.8) {declaration of independence of 13 colonies in America 1776};
\node[kingbox, fill=warred, fit={(1618,586.5)(1648,599.9)}] (thirty2) {};
\node[evtlbl, left=1.5pt of thirty2] (thirty2L) {Thirty Years’ War in Europe 1618-1648};
\node[evtlbl, anchor=east] (precolumbian) at ([xshift=-1.4pt]1492,606.5) {end of the pre-columbian period in the Americas 1492};

% statistics
\node[tinylbl, anchor=north west] (stats) at (-4073,585) {41 persons\\12 judges\\18 prophets\\63 kings\\41 periods\\42 events\\Timeline 4.0 - created 2024-01-31 01:08};

\end{tikzpicture}
\end{document}
